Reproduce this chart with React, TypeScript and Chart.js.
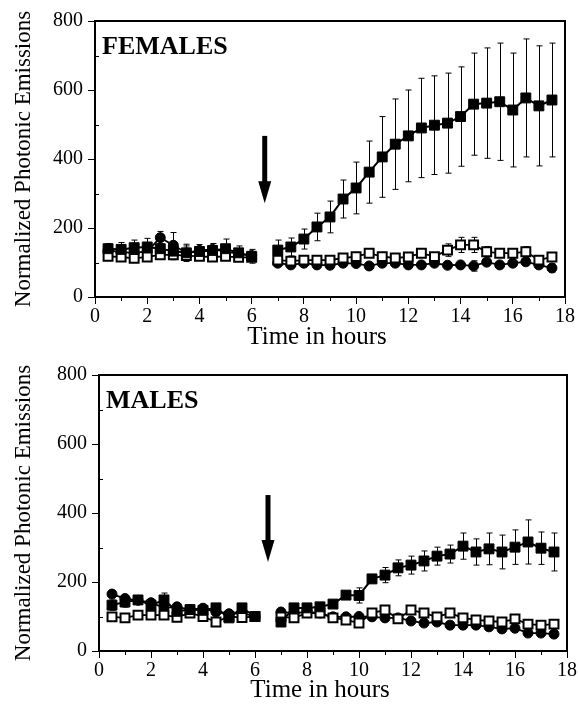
import React, { useEffect, useRef } from "react";
import { Chart, registerables } from "chart.js";
Chart.register(...registerables);

const HOURS = [0.5, 1, 1.5, 2, 2.5, 3, 3.5, 4, 4.5, 5, 5.5, 6, 6.5, 7, 7.5, 8, 8.5, 9, 9.5, 10, 10.5, 11, 11.5, 12, 12.5, 13, 13.5, 14, 14.5, 15, 15.5, 16, 16.5, 17, 17.5];
const X_TICKS = [0, 2, 4, 6, 8, 10, 12, 14, 16, 18];
const Y_TICKS = [0, 200, 400, 600, 800];

// FEMALES
const F_FILLED_SQ = [140, 138, 143, 145, 140, 133, 128, 132, 135, 140, 128, 118, null, 136, 145, 168, 203, 232, 284, 316, 362, 406, 443, 467, 490, 498, 504, 523, 559, 562, 566, 542, 577, 554, 571];
const F_FILLED_SQ_ERR = [15, 20, 22, 25, 15, 25, 25, 20, 20, 28, 20, 20, 0, 29, 26, 29, 40, 46, 55, 75, 90, 117, 131, 133, 144, 143, 145, 144, 148, 160, 170, 165, 171, 174, 165];
const F_OPEN_SQ = [118, 116, 112, 116, 122, 122, 120, 118, 116, 118, 115, 115, null, 107, 104, 107, 107, 107, 113, 117, 127, 117, 113, 116, 127, 117, 136, 151, 151, 131, 127, 127, 131, 107, 116];
const F_OPEN_SQ_ERR = [6, 6, 6, 6, 6, 6, 6, 6, 6, 6, 6, 6, 0, 5, 5, 5, 5, 5, 5, 5, 5, 5, 5, 5, 5, 5, 18, 22, 22, 15, 5, 5, 15, 5, 5];
const F_CIRCLE = [135, 130, 128, 132, 172, 150, 128, 135, 138, 132, 125, 120, null, 98, 93, 98, 93, 92, 98, 97, 90, 98, 98, 93, 93, 98, 92, 93, 90, 101, 93, 98, 102, 93, 84];
const F_CIRCLE_ERR = [8, 8, 8, 8, 18, 37, 20, 10, 10, 8, 8, 8, 0, 5, 5, 5, 5, 5, 5, 5, 5, 5, 5, 5, 5, 5, 5, 5, 15, 5, 5, 5, 5, 5, 12];

// MALES
const M_FILLED_SQ = [133, 142, 148, 133, 148, 115, 120, 118, 125, 96, 125, 100, null, 84, 125, 125, 128, 136, 162, 161, 209, 220, 241, 249, 261, 275, 281, 304, 287, 296, 287, 301, 316, 298, 287];
const M_FILLED_SQ_ERR = [15, 15, 10, 15, 20, 10, 10, 10, 10, 10, 10, 8, 0, 8, 10, 10, 10, 10, 10, 22, 10, 22, 23, 26, 29, 26, 26, 38, 38, 46, 49, 50, 64, 47, 55];
const M_OPEN_SQ = [99, 96, 104, 104, 104, 98, 110, 100, 84, 100, 97, 100, null, 99, 96, 110, 110, 96, 90, 81, 110, 119, 93, 119, 110, 99, 110, 96, 90, 87, 84, 93, 78, 75, 78];
const M_OPEN_SQ_ERR = [6, 6, 6, 6, 10, 6, 6, 6, 6, 6, 6, 6, 0, 5, 5, 5, 5, 5, 5, 5, 5, 5, 5, 5, 5, 5, 10, 5, 8, 8, 5, 5, 8, 5, 5];
const M_CIRCLE = [165, 152, 147, 140, 125, 128, 120, 124, 113, 108, 110, 100, null, 113, 110, 113, 110, 99, 99, 100, 99, 96, 96, 87, 81, 84, 75, 75, 75, 70, 64, 66, 52, 52, 49];
const M_CIRCLE_ERR = [10, 8, 8, 8, 8, 8, 8, 8, 8, 8, 8, 8, 0, 5, 5, 5, 5, 5, 5, 5, 5, 5, 5, 5, 5, 5, 5, 5, 5, 5, 5, 5, 5, 5, 5];

const ARROW_X = 6.5;
const F_ARROW = [467, 272];
const M_ARROW = [452, 258];
const X_TITLE = "Time in hours";
const Y_TITLE = "Normalized Photonic Emissions";

const FONT = "'Liberation Serif', 'Times New Roman', Times, serif";

const errorBarPlugin = {
  id: "errbars",
  beforeDatasetsDraw(chart: any) {
    const { ctx, scales } = chart;
    const x = scales.x, y = scales.y;
    ctx.save();
    ctx.strokeStyle = "#000";
    ctx.lineWidth = 1;
    chart.data.datasets.forEach((ds: any) => {
      const errs = ds.errors;
      if (!errs) return;
      ds.data.forEach((p: any, i: number) => {
        if (p.y == null || !errs[i]) return;
        const px = Math.round(x.getPixelForValue(p.x)) + 0.5;
        const top = y.getPixelForValue(p.y + errs[i]);
        const bot = y.getPixelForValue(p.y - errs[i]);
        ctx.beginPath();
        ctx.moveTo(px, top);
        ctx.lineTo(px, bot);
        ctx.moveTo(px - 3, top);
        ctx.lineTo(px + 3, top);
        ctx.moveTo(px - 3, bot);
        ctx.lineTo(px + 3, bot);
        ctx.stroke();
      });
    });
    ctx.restore();
  },
};

const framePlugin = {
  id: "frame",
  afterDraw(chart: any) {
    const { ctx, chartArea: a, scales } = chart;
    const opts = chart.options.plugins.frame || {};
    const x = scales.x, y = scales.y;
    ctx.save();
    ctx.strokeStyle = "#000";
    ctx.lineWidth = 2;
    ctx.beginPath();
    ctx.moveTo(a.left, a.top);
    ctx.lineTo(a.right, a.top);
    ctx.lineTo(a.right, a.bottom);
    ctx.stroke();
    // minor ticks
    ctx.lineWidth = 1;
    ctx.beginPath();
    [100, 300, 500, 700].forEach((v) => {
      const py = Math.round(y.getPixelForValue(v)) + 0.5;
      ctx.moveTo(a.left, py);
      ctx.lineTo(a.left + 4, py);
    });
    [1, 3, 5, 7, 9, 11, 13, 15, 17].forEach((v) => {
      const px = Math.round(x.getPixelForValue(v)) + 0.5;
      ctx.moveTo(px, a.bottom);
      ctx.lineTo(px, a.bottom + 4);
    });
    ctx.stroke();
    ctx.fillStyle = "#000";
    // x title (slightly left of axis centre, as in the reference)
    ctx.font = `25px ${FONT}`;
    ctx.textAlign = "center";
    ctx.textBaseline = "middle";
    ctx.fillText(X_TITLE, (a.left + a.right) / 2 - 13, opts.xTitleY);
    // label
    ctx.font = `bold 26px ${FONT}`;
    ctx.textBaseline = "alphabetic";
    ctx.textAlign = "left";
    ctx.fillText(opts.label || "", a.left + 7, a.top + 33);
    // arrow
    if (opts.arrow) {
      const ax = x.getPixelForValue(ARROW_X);
      const y1 = y.getPixelForValue(opts.arrow[0]);
      const y2 = y.getPixelForValue(opts.arrow[1]);
      ctx.fillRect(ax - 2.5, y1, 5, y2 - y1 - 18);
      ctx.beginPath();
      ctx.moveTo(ax - 6.5, y2 - 22);
      ctx.lineTo(ax + 6.5, y2 - 22);
      ctx.lineTo(ax, y2);
      ctx.closePath();
      ctx.fill();
    }
    ctx.restore();
  },
};

function toPoints(vals: (number | null)[]) {
  return HOURS.map((h, i) => ({ x: h, y: vals[i] }));
}

function makeDatasets(filled: any[], filledErr: number[], open: any[], openErr: number[], circ: any[], circErr: number[]) {
  return [
    {
      label: "Filled squares",
      data: toPoints(filled),
      errors: filledErr,
      borderColor: "#000",
      borderWidth: 2,
      backgroundColor: "#000",
      pointStyle: "rect",
      pointRadius: 7,
      pointBorderWidth: 1,
      pointBorderColor: "#000",
      pointBackgroundColor: "#000",
      spanGaps: false,
      order: 0,
    },
    {
      label: "Open squares",
      data: toPoints(open),
      errors: openErr,
      borderColor: "#000",
      borderWidth: 1.8,
      backgroundColor: "#fff",
      pointStyle: "rect",
      pointRadius: 6.3,
      pointBorderWidth: 2,
      pointBorderColor: "#000",
      pointBackgroundColor: "#fff",
      spanGaps: false,
      order: 1,
    },
    {
      label: "Filled circles",
      data: toPoints(circ),
      errors: circErr,
      borderColor: "#000",
      borderWidth: 1.8,
      backgroundColor: "#000",
      pointStyle: "circle",
      pointRadius: 5,
      pointBorderWidth: 1,
      pointBorderColor: "#000",
      pointBackgroundColor: "#000",
      spanGaps: false,
      order: 2,
    },
  ];
}

function makeConfig(datasets: any[], label: string, arrow: number[], yWidth: number, xHeight: number, padTop: number, padRight: number, xTitleY: number): any {
  return {
    type: "line",
    data: { datasets },
    plugins: [errorBarPlugin, framePlugin],
    options: {
      animation: false,
      responsive: false,
      devicePixelRatio: 1,
      layout: { padding: { top: padTop, right: padRight, left: 0, bottom: 0 } },
      plugins: {
        legend: { display: false },
        tooltip: { enabled: false },
        frame: { label, arrow, xTitleY },
      },
      scales: {
        x: {
          type: "linear",
          min: 0,
          max: 18,
          afterBuildTicks: (s: any) => {
            s.ticks = X_TICKS.map((v) => ({ value: v }));
          },
          afterFit: (s: any) => {
            s.height = xHeight;
          },
          border: { color: "#000", width: 2 },
          grid: { drawOnChartArea: false, drawTicks: true, tickLength: 7, color: "#000", lineWidth: 1 },
          ticks: { color: "#000", font: { family: FONT, size: 20 }, padding: 1, maxRotation: 0 },
          title: { display: false },
        },
        y: {
          type: "linear",
          min: 0,
          max: 800,
          afterBuildTicks: (s: any) => {
            s.ticks = Y_TICKS.map((v) => ({ value: v }));
          },
          afterFit: (s: any) => {
            s.width = yWidth;
          },
          border: { color: "#000", width: 2 },
          grid: { drawOnChartArea: false, drawTicks: true, tickLength: 7, color: "#000", lineWidth: 1 },
          ticks: { color: "#000", font: { family: FONT, size: 20 }, padding: 5 },
          title: { display: true, text: Y_TITLE, color: "#000", font: { family: FONT, size: 23 }, padding: { top: 10, bottom: 0 } },
        },
      },
    },
  };
}

export default function App() {
  const topRef = useRef<HTMLCanvasElement>(null);
  const botRef = useRef<HTMLCanvasElement>(null);

  useEffect(() => {
    const c1 = new Chart(
      topRef.current as HTMLCanvasElement,
      makeConfig(makeDatasets(F_FILLED_SQ, F_FILLED_SQ_ERR, F_OPEN_SQ, F_OPEN_SQ_ERR, F_CIRCLE, F_CIRCLE_ERR), "FEMALES", F_ARROW, 95, 55, 21, 13, 337)
    );
    const c2 = new Chart(
      botRef.current as HTMLCanvasElement,
      makeConfig(makeDatasets(M_FILLED_SQ, M_FILLED_SQ_ERR, M_OPEN_SQ, M_OPEN_SQ_ERR, M_CIRCLE, M_CIRCLE_ERR), "MALES", M_ARROW, 99, 54, 23, 9, 338)
    );
    return () => {
      c1.destroy();
      c2.destroy();
    };
  }, []);

  return (
    <div style={{ position: "fixed", left: 0, top: 0, width: 578, height: 705, background: "#fff" }}>
      <canvas ref={topRef} width={578} height={352} style={{ position: "absolute", left: 0, top: 0, width: 578, height: 352 }} />
      <canvas ref={botRef} width={578} height={353} style={{ position: "absolute", left: 0, top: 352, width: 578, height: 353 }} />
    </div>
  );
}
